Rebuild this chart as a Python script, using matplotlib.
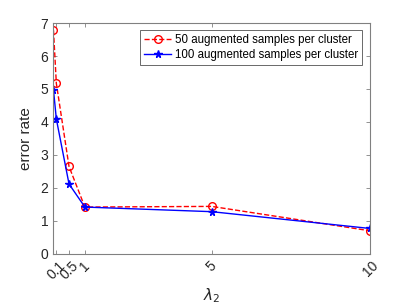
import matplotlib
matplotlib.use("Agg")
import matplotlib.pyplot as plt

plt.rcParams['font.family'] = ['Liberation Sans', 'DejaVu Sans']

lam = [0.01, 0.1, 0.5, 1, 5, 10]
err50 = [6.78, 5.17, 2.65, 1.42, 1.44, 0.70]
err100 = [4.97, 4.09, 2.12, 1.42, 1.28, 0.77]
xticks = [0.1, 0.5, 1, 5, 10]
xticklabels = ['0.1', '0.5', '1', '5', '10']
label50 = '50 augmented samples per cluster'
label100 = '100 augmented samples per cluster'

fig = plt.figure(figsize=(4.09, 3.07), dpi=100)
ax = fig.add_axes([0.130, 0.173, 0.775, 0.752])

ax.plot(lam, err50, color='red', linestyle='--', marker='o', markersize=5.5,
        markerfacecolor='none', markeredgecolor='red', linewidth=1.0, label=label50)
ax.plot(lam, err100, color='blue', linestyle='-', marker='*', markersize=5.5,
        linewidth=1.0, label=label100)

ax.set_xlim(0, 10)
ax.set_ylim(0, 7)
ax.set_xticks(xticks)
ax.set_xticklabels(xticklabels, rotation=45, ha='center', va='top')
ax.set_yticks(range(0, 8))

gray = '#262626'
for s in ax.spines.values():
    s.set_color('#808080')
    s.set_linewidth(0.8)
ax.tick_params(direction='in', length=3, width=0.6, colors='#808080',
               labelcolor=gray, labelsize=10, top=True, right=True)

ax.set_xlabel(r'$\lambda_2$', fontsize=11, color=gray, labelpad=3)
ax.set_ylabel('error rate', fontsize=11, color=gray, labelpad=5)

leg = ax.legend(loc='upper right', bbox_to_anchor=(0.975, 0.97), fontsize=8.3,
                frameon=True, fancybox=False, edgecolor='#262626',
                borderpad=0.35, handlelength=2.4, handletextpad=0.3,
                labelspacing=0.25, borderaxespad=0)
leg.get_frame().set_linewidth(0.6)

fig.savefig('out.png', dpi=100)
